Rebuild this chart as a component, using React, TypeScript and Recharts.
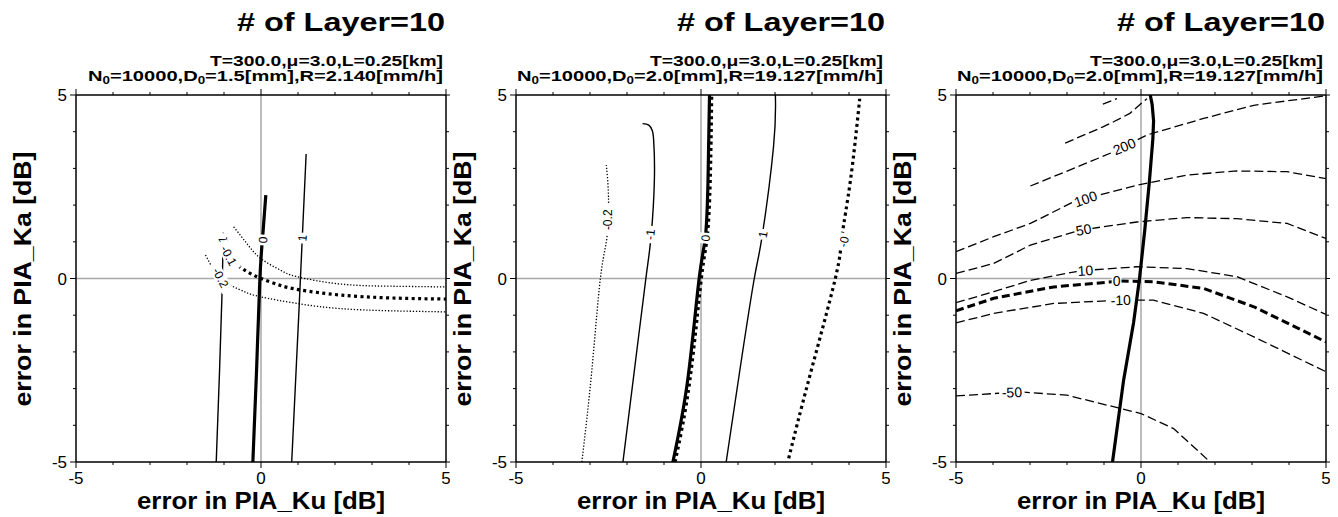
import { LineChart, Line, XAxis, YAxis, ReferenceLine, ReferenceDot } from "recharts";

// tick values shared by all three panels
const ticks = [-5, -4, -3, -2, -1, 0, 1, 2, 3, 4, 5];
const d0Values = ["1.5", "2.0", "2.0"];
const rValues = ["2.140", "19.127", "19.127"];

// panel 1 : D0=1.5
const p1Zero = [[-0.22, -5], [-0.12, -2.5], [-0.03, 0], [0.05, 1.2], [0.13, 2.27]];
const p1Plus1 = [[0.83, -5], [1.02, -1], [1.22, 3.39]];
const p1Minus1 = [[-1.21, -5], [-1.12, -2.5], [-1.05, -0.3], [-1.02, 1.25]];
const p1DotUpper = [[-0.74, 1.41], [-0.38, 0.95], [0, 0.54], [0.52, 0.23], [0.97, 0.05], [2.14, -0.15], [3.5, -0.21], [5, -0.23]];
const p1DotMid = [[-0.76, 0.45], [-0.4, 0.2], [0, 0], [0.5, -0.18], [1.05, -0.31], [2.14, -0.45], [3.5, -0.53], [5, -0.56]];
const p1DotLower = [[-1.5, 0.64], [-1.3, 0.25], [-1.15, 0], [-0.8, -0.2], [-0.4, -0.38], [0, -0.5], [0.97, -0.68], [2.14, -0.82], [3.5, -0.88], [5, -0.91]];

// panel 2 : D0=2.0
const p2Zero = [[-0.76, -5], [-0.36, -2.77], [-0.05, 0], [0.12, 1.14], [0.19, 2.68], [0.23, 5]];
const p2ZeroDot = [[-0.7, -5], [-0.3, -2.77], [0.01, 0], [0.17, 1.14], [0.25, 2.68], [0.29, 5]];
const p2Plus1 = [[0.68, -5], [1.05, -2.5], [1.44, 0], [1.65, 1.14], [1.96, 3.59], [2.01, 5]];
const p2Minus1 = [[-2.11, -5], [-1.8, -2.5], [-1.49, 0], [-1.35, 1.14], [-1.26, 2.68], [-1.28, 3.77], [-1.32, 4.04], [-1.41, 4.18], [-1.58, 4.22]];
const p2Minus02 = [[-3.22, -5], [-2.95, -2.5], [-2.72, 0], [-2.54, 1.14], [-2.5, 2.23], [-2.56, 3.09]];
const p2ZeroRight = [[2.37, -4.9], [2.91, -2.77], [3.63, 0], [3.81, 1.14], [4.04, 2.68], [4.29, 4.9]];

// panel 3 : D0=2.0, dashed contours
const p3Thick = [[-0.77, -5], [-0.47, -2.77], [-0.2, -1.2], [-0.04, 0], [0.1, 1.3], [0.23, 2.68], [0.32, 3.8], [0.34, 4.3], [0.3, 4.75], [0.25, 5]];
const p3M50 = [[-5, -3.2], [-3.26, -3.09], [-2, -3.18], [-0.92, -3.45], [0, -3.68], [0.88, -4.09], [1.87, -5]];
const p3M10 = [[-5, -1.21], [-3.98, -0.95], [-2.36, -0.68], [-0.56, -0.59], [0.34, -0.59], [1.69, -0.95], [3.05, -1.59], [5, -2.54]];
const p3Zero = [[-5, -0.88], [-3.98, -0.54], [-2.36, -0.23], [-0.56, -0.07], [0.34, -0.09], [1.69, -0.27], [3.05, -0.77], [5, -1.73]];
const p3P10 = [[-5, -0.66], [-3.98, -0.36], [-2.99, -0.05], [-1.64, 0.21], [-0.11, 0.32], [1.24, 0.27], [2.59, 0.05], [3.95, -0.5], [5, -0.98]];
const p3P50 = [[-5, 0.14], [-3.98, 0.41], [-2.99, 0.91], [-1.64, 1.32], [-0.11, 1.54], [1.24, 1.66], [2.59, 1.63], [3.95, 1.5], [5, 1.09]];
const p3P100 = [[-5, 0.73], [-3.98, 1.14], [-2.99, 1.5], [-1.82, 2.09], [-0.11, 2.54], [1.24, 2.82], [2.59, 2.93], [3.95, 2.91], [5, 2.72]];
const p3P200 = [[-2.99, 2.52], [-1.82, 3.0], [-0.74, 3.45], [0.16, 3.91], [1.69, 4.36], [3.05, 4.72], [5, 4.98]];
const p3P500 = [[-2.05, 3.69], [-1.03, 4.13], [-0.74, 4.27], [-0.3, 4.5], [0.05, 4.81], [0.16, 4.9]];
const p3Top = [[-1.03, 4.75], [-0.65, 4.9]];

// contour labels: [text, x, y]
const p1Labels = [["0", 0.06, 1.05], ["1", 1.12, 1.1], ["-1", -1.03, 1.0], ["-0.1", -0.88, 0.62], ["-0.2", -1.1, 0.02]];
const p2Labels = [["-0.2", -2.52, 1.6], ["-1", -1.37, 1.2], ["0", 0.13, 1.1], ["1", 1.68, 1.2], ["-0", 3.86, 1.0]];
const p3Labels = [["200", -0.45, 3.6], ["100", -1.5, 2.17], ["50", -1.55, 1.33], ["10", -1.5, 0.22], ["0", -0.66, -0.07], ["-10", -0.55, -0.59], ["-50", -3.49, -3.1]];

const FONT = "'Liberation Sans', Arial, Helvetica, sans-serif";

const styles: Record<string, any> = {
  solid: { strokeWidth: 1.4 },
  thick: { strokeWidth: 3.2 },
  dotThin: { strokeWidth: 1.3, strokeDasharray: "1.3 1.8" },
  dotThick: { strokeWidth: 3.2, strokeDasharray: "3 3.4" },
  dash: { strokeWidth: 1.3, strokeDasharray: "9 4" },
  dashThick: { strokeWidth: 3, strokeDasharray: "8 4" }
};

const toPts = (a: number[][]) => a.map(([x, y]) => ({ x, y }));

const panels = [
  {
    left: 0,
    curve: "natural",
    lines: [
      { d: p1DotUpper, s: "dotThin" },
      { d: p1DotMid, s: "dotThick" },
      { d: p1DotLower, s: "dotThin" },
      { d: p1Zero, s: "thick" },
      { d: p1Plus1, s: "solid" },
      { d: p1Minus1, s: "solid" }
    ],
    labels: p1Labels,
    angles: [-87, -85, -88, 62, 62],
    fs: 12,
    pad: 4
  },
  {
    left: 440,
    curve: "natural",
    lines: [
      { d: p2Minus02, s: "dotThin" },
      { d: p2ZeroRight, s: "dotThick" },
      { d: p2ZeroDot, s: "dotThick" },
      { d: p2Zero, s: "thick" },
      { d: p2Plus1, s: "solid" },
      { d: p2Minus1, s: "solid" }
    ],
    labels: p2Labels,
    angles: [-90, -84, -86, -80, -76],
    fs: 12,
    pad: 4
  },
  {
    left: 880,
    curve: "linear",
    lines: [
      { d: p3M50, s: "dash" },
      { d: p3M10, s: "dash" },
      { d: p3Zero, s: "dashThick" },
      { d: p3P10, s: "dash" },
      { d: p3P50, s: "dash" },
      { d: p3P100, s: "dash" },
      { d: p3P200, s: "dash" },
      { d: p3P500, s: "dash" },
      { d: p3Top, s: "dash" },
      { d: p3Thick, s: "thick" }
    ],
    labels: p3Labels,
    angles: [-22, -20, -10, -4, 0, -2, -2],
    fs: 14,
    pad: 2
  }
];

const XTick = (side: string) => (p: any) => {
  const v = p.payload.value;
  const major = v % 5 === 0;
  const len = major ? 6 : 3;
  const d = side === "bottom" ? 1 : -1;
  return (
    <g>
      <line x1={p.x} x2={p.x} y1={p.y} y2={p.y + d * len} stroke="#000" strokeWidth={1} />
      {side === "bottom" && major && (
        <text x={p.x} y={p.y + 22} textAnchor="middle" fontSize={17} fontFamily={FONT} fill="#000">
          {v}
        </text>
      )}
    </g>
  );
};

const YTick = (side: string) => (p: any) => {
  const v = p.payload.value;
  const major = v % 5 === 0;
  const len = major ? 6 : 3;
  const d = side === "left" ? -1 : 1;
  return (
    <g>
      <line x1={p.x} x2={p.x + d * len} y1={p.y} y2={p.y} stroke="#000" strokeWidth={1} />
      {side === "left" && major && (
        <text x={p.x - 9} y={p.y + 6} textAnchor="end" fontSize={17} fontFamily={FONT} fill="#000">
          {v}
        </text>
      )}
    </g>
  );
};

function Panel({ cfg }: { cfg: any }) {
  return (
    <div style={{ position: "absolute", left: cfg.left, top: 0 }}>
      <LineChart width={450} height={517} margin={{ top: 94, right: 3, bottom: 54, left: 75 }}>
        <XAxis dataKey="x" type="number" domain={[-5, 5]} ticks={ticks} height={1} tickSize={0} tickMargin={0}
          axisLine={{ stroke: "#000", strokeWidth: 1.5 }} tickLine={false} tick={XTick("bottom")} interval={0} allowDataOverflow />
        <XAxis xAxisId="top" orientation="top" dataKey="x" type="number" domain={[-5, 5]} ticks={ticks} height={1} tickSize={0} tickMargin={0}
          axisLine={{ stroke: "#000", strokeWidth: 1.5 }} tickLine={false} tick={XTick("top")} interval={0} allowDataOverflow />
        <YAxis dataKey="y" type="number" domain={[-5, 5]} ticks={ticks} width={1} tickSize={0} tickMargin={0}
          axisLine={{ stroke: "#000", strokeWidth: 1.5 }} tickLine={false} tick={YTick("left")} interval={0} allowDataOverflow />
        <YAxis yAxisId="right" orientation="right" dataKey="y" type="number" domain={[-5, 5]} ticks={ticks} width={1} tickSize={0} tickMargin={0}
          axisLine={{ stroke: "#000", strokeWidth: 1.5 }} tickLine={false} tick={YTick("right")} interval={0} allowDataOverflow />
        <ReferenceLine x={0} stroke="#a8a8a8" strokeWidth={1.5} />
        <ReferenceLine y={0} stroke="#a8a8a8" strokeWidth={1.5} />
        {cfg.lines.map((l: any, i: number) => (
          <Line key={i} data={toPts(l.d)} dataKey="y" type={cfg.curve} stroke="#000" dot={false} activeDot={false}
            strokeLinecap="butt" isAnimationActive={false} {...styles[l.s]} />
        ))}
        {/* invisible series so the top / right axes get a domain */}
        <Line xAxisId="top" yAxisId="right" data={toPts([[-5, -5], [5, 5]])} dataKey="y" stroke="none" dot={false} activeDot={false} isAnimationActive={false} />
        {cfg.labels.map((lb: any, i: number) => (
          <ReferenceDot key={"lb" + i} x={lb[1]} y={lb[2]} r={0} ifOverflow="visible"
            shape={(p: any) => {
              const w = lb[0].length * cfg.fs * 0.56 + cfg.pad;
              const h = cfg.fs;
              return (
                <g transform={`translate(${p.cx},${p.cy}) rotate(${cfg.angles[i]})`}>
                  <rect x={-w / 2} y={-h / 2} width={w} height={h} fill="#fff" />
                  <text textAnchor="middle" dominantBaseline="central" fontSize={cfg.fs} fontFamily={FONT} fill="#000">
                    {lb[0]}
                  </text>
                </g>
              );
            }} />
        ))}
      </LineChart>
    </div>
  );
}

function Texts() {
  return (
    <svg width={1338} height={517} style={{ position: "absolute", left: 0, top: 0, pointerEvents: "none" }}>
      {[0, 440, 880].map((off, i) => (
        <g key={i} fontFamily={FONT} fill="#000">
          <text x={off + 445} y={31} textAnchor="end" fontSize={25} fontWeight="bold" textLength={208} lengthAdjust="spacingAndGlyphs">
            # of Layer=10
          </text>
          <text x={off + 443} y={66} textAnchor="end" fontSize={15} fontWeight="bold" textLength={233} lengthAdjust="spacingAndGlyphs">
            T=300.0,μ=3.0,L=0.25[km]
          </text>
          <text x={off + 443} y={81} textAnchor="end" fontSize={15} fontWeight="bold" textLength={i === 0 ? 355 : 366} lengthAdjust="spacingAndGlyphs">
            N<tspan fontSize={10} dy={3}>0</tspan>
            <tspan dy={-3}>=10000,D</tspan>
            <tspan fontSize={10} dy={3}>0</tspan>
            <tspan dy={-3}>{`=${d0Values[i]}[mm],R=${rValues[i]}[mm/h]`}</tspan>
          </text>
          <text x={off + 261} y={509} textAnchor="middle" fontSize={23} fontWeight="bold" textLength={248} lengthAdjust="spacingAndGlyphs">
            error in PIA_Ku [dB]
          </text>
          <text transform={`translate(${off + 31},279) rotate(-90)`} textAnchor="middle" fontSize={23} fontWeight="bold" textLength={255} lengthAdjust="spacingAndGlyphs">
            error in PIA_Ka [dB]
          </text>
        </g>
      ))}
    </svg>
  );
}

export default function App() {
  return (
    <div style={{ position: "absolute", left: 0, top: 0, width: 1338, height: 517, background: "#fff", fontFamily: FONT }}>
      {panels.map((cfg, i) => (
        <Panel key={i} cfg={cfg} />
      ))}
      <Texts />
    </div>
  );
}
